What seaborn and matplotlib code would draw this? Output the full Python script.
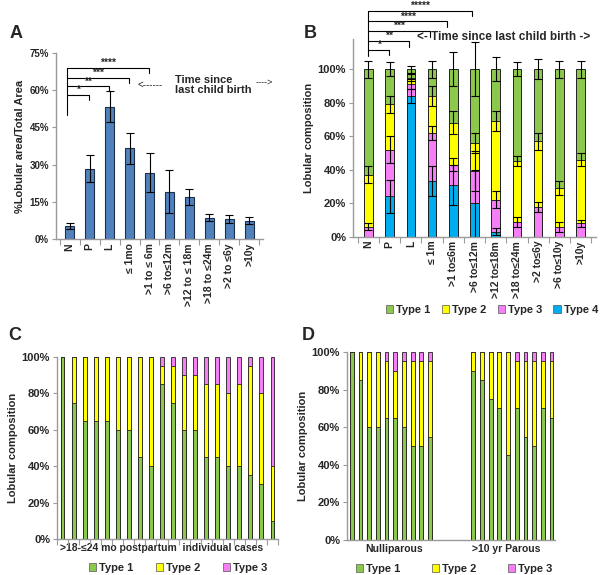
import numpy as np
import pandas as pd
import seaborn as sns
import matplotlib.pyplot as plt
from matplotlib.patches import Patch

sns.set_style("white")
plt.rcParams['font.family'] = ['Liberation Sans', 'DejaVu Sans']
plt.rcParams['font.weight'] = 'bold'
plt.rcParams['axes.labelweight'] = 'bold'

GREEN = '#8cc84b'
YELLOW = '#ffff00'
PINK = '#f580f5'
CYAN = '#00aeef'
BARBLUE = '#4f81bd'
AXGRAY = '#9a9a9a'

# ---- panel A: % lobular area
a_groups = ['N', 'P', 'L', '≤ 1mo', '>1 to ≤ 6m', '>6 to≤12m', '>12 to ≤ 18m',
            '>18 to ≤24m', '>2 to ≤6y', '>10y']
a_area = [5.2, 28.4, 53.3, 36.5, 26.7, 19.0, 16.8, 8.6, 7.9, 7.4]
a_err = [1.1, 5.3, 6.3, 6.2, 7.8, 8.7, 3.2, 1.5, 1.6, 1.4]
a_stars = ['*', '**', '***', '****']
a_star_end = [1, 2, 3, 4]

# ---- panel B: lobular composition by time since birth (segment sizes)
b_groups = ['N', 'P', 'L', '≤ 1m', '>1 to≤6m', '>6 to≤12m', '>12 to≤18m',
            '>18 to≤24m', '>2 to≤6y', '>6 to≤10y', '>10y']
b_type4 = [0, 24, 84, 33, 31, 20, 3, 0, 0, 0, 0]
b_type3 = [6, 28, 7, 29, 12, 19, 19, 9, 18, 6, 8]
b_type2 = [31, 27, 4, 22, 25, 17, 47, 36, 39, 23, 38]
b_type1 = [63, 21, 5, 16, 32, 44, 31, 55, 43, 71, 54]
b_err4 = [0, 10, 4, 9, 12, 20, 2, 0, 0, 0, 0]
b_err3 = [2, 8, 3, 4, 4, 12, 5, 3, 3, 3, 2]
b_err2 = [5, 5, 2, 6, 7, 6, 6, 3, 5, 4, 4]
b_err1 = [5, 4, 2, 5, 10, 16, 7, 4, 6, 5, 5]
b_stars = ['*', '**', '***', '****', '*****']

# ---- panel C: individual cases >18-24 mo postpartum
c_type1 = [100, 75, 65, 65, 65, 60, 60, 45, 40, 85, 75, 60, 60, 45, 45, 40, 40, 35, 30, 10]
c_type2 = [0, 25, 35, 35, 35, 40, 40, 55, 60, 10, 20, 30, 30, 40, 40, 40, 45, 60, 50, 30]
c_type3 = [0, 0, 0, 0, 0, 0, 0, 0, 0, 5, 5, 10, 10, 15, 15, 20, 15, 5, 20, 60]

# ---- panel D: nulliparous vs >10 yr parous
d_null1 = [100, 85, 60, 60, 65, 65, 60, 50, 50, 55]
d_null2 = [0, 15, 40, 40, 30, 25, 35, 45, 45, 40]
d_null3 = [0, 0, 0, 0, 5, 10, 5, 5, 5, 5]
d_par1 = [90, 85, 75, 70, 45, 70, 55, 50, 70, 65]
d_par2 = [10, 15, 25, 30, 55, 25, 40, 45, 25, 30]
d_par3 = [0, 0, 0, 0, 0, 5, 5, 5, 5, 5]

fig = plt.figure(figsize=(6, 5.75), dpi=100)
axA = fig.add_axes([56/600, 1-239/575, 207/600, 186/575])
axB = fig.add_axes([353/600, 1-236.7/575, 243/600, 197.7/575])
axC = fig.add_axes([57/600, 1-539/575, 221/600, 182/575])
axD = fig.add_axes([347/600, 1-540/575, 208/600, 188/575])


def style_axis(ax, ysize):
    sns.despine(ax=ax)
    for s in ['left', 'bottom']:
        ax.spines[s].set_color(AXGRAY)
        ax.spines[s].set_linewidth(1.0)
    ax.tick_params(axis='y', length=3, width=0.8, color=AXGRAY, left=True,
                   labelsize=ysize, pad=2)
    ax.tick_params(axis='x', which='major', length=0, pad=3)
    ax.set_xlabel('')


def stack(ax, names, layers, colors, width, order=None, lw=0.7):
    # draw cumulative totals from the top layer down so each segment shows
    cum = np.cumsum(np.array(layers, dtype=float), axis=0)
    for k in range(len(layers) - 1, -1, -1):
        df = pd.DataFrame({'g': names, 'v': cum[k]})
        sns.barplot(data=df, x='g', y='v', order=order, color=colors[k],
                    width=width, edgecolor='#222222', linewidth=lw,
                    saturation=1, errorbar=None, ax=ax)
    return cum


def bracket(ax, x0, x1, y, drop, label, fs=7):
    ax.plot([x0, x1, x1], [y, y, y - drop], color='black', lw=0.8, clip_on=False)
    ax.text((x0 + x1) / 2, y, label, ha='center', va='bottom', fontsize=fs,
            clip_on=False)


def type_legend(colors, labels, x, y, spacing):
    fig.legend([Patch(facecolor=c, edgecolor='#555555', lw=0.5) for c in colors],
               labels, loc='center', bbox_to_anchor=(x/600, 1-y/575),
               ncol=len(colors), frameon=False, fontsize=8, handlelength=0.7,
               handleheight=0.8, handletextpad=0.25, columnspacing=spacing)


# ================= A
dfA = pd.DataFrame({'g': a_groups, 'v': a_area})
sns.barplot(data=dfA, x='g', y='v', color=BARBLUE, width=0.43, saturation=1,
            edgecolor='#1f2f4a', linewidth=0.8, errorbar=None, ax=axA)
axA.errorbar(np.arange(len(a_groups)), a_area, yerr=a_err, fmt='none',
             ecolor='black', elinewidth=0.8, capsize=3, capthick=0.8)
axA.set_ylim(0, 75)
axA.set_yticks([0, 15, 30, 45, 60, 75])
axA.set_yticklabels(['0%', '15%', '30%', '45%', '60%', '75%'])
axA.set_xticks(np.arange(-0.5, len(a_groups)), minor=True)
axA.tick_params(axis='x', which='minor', length=4, width=0.8, color=AXGRAY,
                bottom=True)
style_axis(axA, 7)
axA.set_xticks(np.arange(len(a_groups)))
axA.set_xticklabels(a_groups, rotation=90, fontsize=7.5)
axA.set_ylabel('%Lobular area/Total Area', fontsize=8, labelpad=3)
a_lev = [58, 61.5, 65, 69]
axA.plot([-0.12, -0.12], [50, a_lev[-1]], color='black', lw=0.8, clip_on=False)
for s, e, y in zip(a_stars, a_star_end, a_lev):
    bracket(axA, -0.12, e - 0.05, y, 2, s, fs=7.5)
axA.text(5.3, 62, 'Time since\nlast child birth', fontsize=8, ha='left',
         va='center', linespacing=1.0)
axA.text(3.4, 62.3, '<------', fontsize=7, ha='left', va='center',
         fontweight='normal')
axA.text(9.3, 63.2, '---->', fontsize=6.5, ha='left', va='center',
         fontweight='normal', clip_on=False)

# ================= B
cumB = stack(axB, b_groups, [b_type4, b_type3, b_type2, b_type1],
             [CYAN, PINK, YELLOW, GREEN], 0.4)
for k, err in enumerate([b_err4, b_err3, b_err2, b_err1]):
    idx = [i for i in range(len(b_groups)) if err[i] > 0]
    axB.errorbar(idx, cumB[k][idx], yerr=np.array(err)[idx], fmt='none',
                 ecolor='black', elinewidth=0.8, capsize=3, capthick=0.8)
axB.set_ylim(0, 118)
axB.set_yticks(np.arange(0, 101, 20))
axB.set_yticklabels([f'{v}%' for v in range(0, 101, 20)])
axB.set_xticks(np.arange(-0.5, len(b_groups)), minor=True)
axB.tick_params(axis='x', which='minor', length=4, width=0.8, color=AXGRAY,
                bottom=True)
style_axis(axB, 8)
axB.set_xticks(np.arange(len(b_groups)))
axB.set_xticklabels(b_groups, rotation=90, fontsize=7.5)
axB.set_ylabel('Lobular composition', fontsize=8, labelpad=3)
b_lev = [111.7, 117, 122.7, 128.5, 135]
b_x1 = [0.97, 1.93, 2.9, 3.72, 4.87]
axB.plot([0, 0], [108, b_lev[-1]], color='black', lw=0.8, clip_on=False)
for s, e, y in zip(b_stars, b_x1, b_lev):
    bracket(axB, 0, e, y, 3.5, s, fs=7.5)
axB.text(6.35, 119, '<- Time since last child birth ->', fontsize=8.5,
         ha='center', va='center', clip_on=False)

type_legend([GREEN, YELLOW, PINK, CYAN], ['Type 1', 'Type 2', 'Type 3', 'Type 4'],
            492, 310, 1.0)

# ================= C
c_cases = [f'c{i}' for i in range(len(c_type1))]
stack(axC, c_cases, [c_type1, c_type2, c_type3], [GREEN, YELLOW, PINK], 0.35,
      lw=0.6)
axC.set_ylim(0, 100)
axC.set_yticks(np.arange(0, 101, 20))
axC.set_yticklabels([f'{v}%' for v in range(0, 101, 20)])
axC.set_xticks(np.arange(-0.5, len(c_cases)), minor=True)
axC.tick_params(axis='x', which='minor', length=4, width=0.8, color=AXGRAY,
                bottom=True)
style_axis(axC, 8)
axC.set_xticks([9.0])
axC.set_xticklabels(['>18-≤24 mo postpartum  individual cases'], fontsize=7.5)
axC.set_ylabel('Lobular composition', fontsize=8, labelpad=3)
type_legend([GREEN, YELLOW, PINK], ['Type 1', 'Type 2', 'Type 3'], 178, 568, 2.0)

# ================= D
null_ids = [f'n{i}' for i in range(len(d_null1))]
par_ids = [f'p{i}' for i in range(len(d_par1))]
d_order = null_ids + ['gap1', 'gap2', 'gap3', 'gap4'] + par_ids
stack(axD, null_ids + par_ids,
      [d_null1 + d_par1, d_null2 + d_par2, d_null3 + d_par3],
      [GREEN, YELLOW, PINK], 0.45, order=d_order, lw=0.6)
axD.set_ylim(0, 100)
axD.set_xlim(-0.55, 23.4)
axD.set_yticks(np.arange(0, 101, 20))
axD.set_yticklabels([f'{v}%' for v in range(0, 101, 20)])
style_axis(axD, 8)
axD.set_xticks([4.9, 17.8])
axD.set_xticklabels(['Nulliparous', '>10 yr Parous'], fontsize=7.5)
axD.set_ylabel('Lobular composition', fontsize=8, labelpad=3)
type_legend([GREEN, YELLOW, PINK], ['Type 1', 'Type 2', 'Type 3'], 454, 569, 2.8)

# panel letters
for lab, x, y in [('A', 10, 33), ('B', 304, 33), ('C', 8, 336), ('D', 302, 336)]:
    fig.text(x/600, 1-y/575, lab, fontsize=13, fontweight='bold', ha='left',
             va='center')

fig.savefig('out.png', dpi=100)
